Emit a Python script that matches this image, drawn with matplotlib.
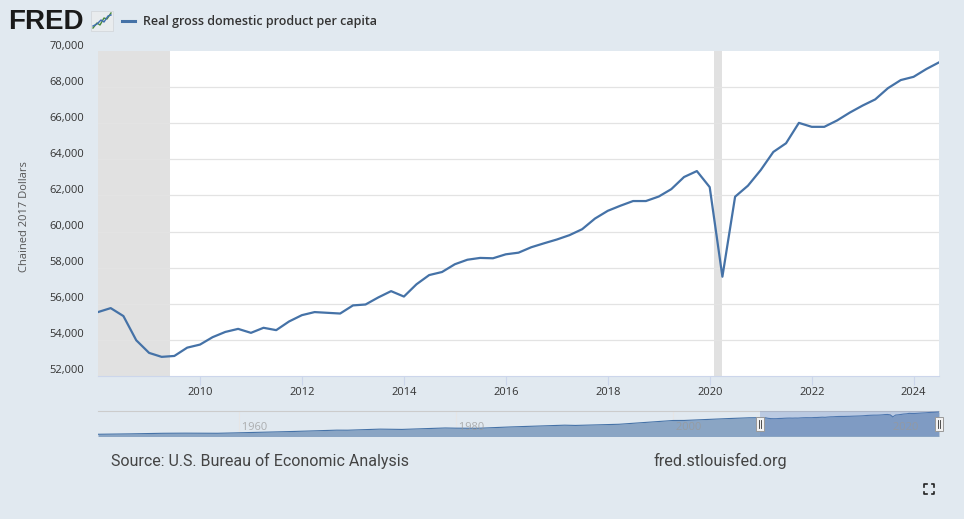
import numpy as np
import pandas as pd
import matplotlib
matplotlib.use("Agg")
import matplotlib.pyplot as plt
import matplotlib.dates as mdates
from matplotlib.patches import Rectangle
from matplotlib.transforms import ScaledTranslation, blended_transform_factory

# quarterly real GDP per capita, chained 2017 dollars, 2008Q1 .. 2024Q3
gdp_pc = [55540, 55760, 55320, 53980, 53280, 53060, 53110, 53570, 53740, 54150,
          54440, 54610, 54390, 54670, 54540, 55020, 55370, 55540, 55500, 55460,
          55910, 55960, 56350, 56700, 56400, 57080, 57590, 57760, 58190, 58440,
          58540, 58520, 58740, 58830, 59130, 59350, 59560, 59800, 60130, 60720,
          61150, 61430, 61690, 61690, 61940, 62350, 63020, 63350, 62460, 57500,
          61930, 62540, 63410, 64410, 64890, 66020, 65800, 65800, 66150, 66590,
          66980, 67320, 67940, 68390, 68570, 69000, 69370]
quarters = pd.date_range("2008-01-01", periods=len(gdp_pc), freq="QS")

# older history, only shown in the navigator strip
hist_dates = pd.to_datetime(["1947-01-01", "1950-01-01", "1953-01-01", "1955-01-01",
                             "1958-01-01", "1960-01-01", "1965-01-01", "1969-01-01",
                             "1970-01-01", "1973-01-01", "1975-01-01", "1979-01-01",
                             "1980-01-01", "1982-01-01", "1985-01-01", "1990-01-01",
                             "1991-01-01", "1995-01-01", "2000-01-01", "2001-01-01",
                             "2005-01-01", "2007-01-01"])
hist_vals = [15200, 16200, 17600, 17900, 17600, 18800, 22000, 25200, 25100, 27700,
             27000, 30500, 30000, 29800, 33000, 37300, 36700, 39500, 48700, 48800,
             53300, 55300]

recessions = [("2007-12-01", "2009-06-01"), ("2020-02-01", "2020-04-01")]
y_ticks = [52000, 54000, 56000, 58000, 60000, 62000, 64000, 66000, 68000, 70000]
x_tick_years = [2010, 2012, 2014, 2016, 2018, 2020, 2022, 2024]
nav_tick_years = [1960, 1980, 2000, 2020]

BG = "#e1e9f0"
LINE = "#4572a7"
W, H = 964, 519

fig = plt.figure(figsize=(W / 100, H / 100), dpi=100, facecolor=BG)

# ---- main chart
ax = fig.add_axes([98 / W, 1 - 376 / H, (939 - 98) / W, (376 - 51) / H])
ax.set_facecolor("white")
for s, e in recessions:
    ax.axvspan(pd.Timestamp(s), pd.Timestamp(e), color="#e1e1e1", lw=0, zorder=1)
ax.plot(quarters, gdp_pc, color=LINE, lw=1.6, zorder=3, solid_joinstyle="round")
ax.set_xlim(pd.Timestamp("2008-01-01"), pd.Timestamp("2024-07-01"))
ax.set_ylim(52000, 70000)
ax.set_yticks(y_ticks)
ax.set_yticklabels([f"{v:,}" for v in y_ticks])
ax.set_xticks([pd.Timestamp(f"{y}-01-01") for y in x_tick_years])
ax.set_xticklabels([str(y) for y in x_tick_years])
ax.grid(axis="y", color="#e3e3e3", lw=0.9, zorder=0)
gl = ax.yaxis.get_gridlines()
gl[0].set_visible(False)
gl[-1].set_visible(False)
for sp in ["top", "right", "left"]:
    ax.spines[sp].set_visible(False)
ax.spines["bottom"].set_color("#ccd6eb")
ax.spines["bottom"].set_linewidth(0.8)
ax.tick_params(axis="y", length=0, pad=10, labelsize=8, labelcolor="#333333")
ax.tick_params(axis="x", length=6.5, width=0.8, color="#ccd6eb", pad=1.5,
               labelsize=8, labelcolor="#333333")
for lbl in ax.get_yticklabels():
    lbl.set_fontfamily(["Open Sans", "DejaVu Sans"])
    lbl.set_transform(lbl.get_transform() + ScaledTranslation(0, 0.065, fig.dpi_scale_trans))
for lbl in ax.get_xticklabels():
    lbl.set_fontfamily(["Open Sans", "DejaVu Sans"])
ax.set_ylabel("Chained 2017 Dollars", fontsize=8, color="#555555",
              family=["Open Sans", "DejaVu Sans"], labelpad=10)
ax.yaxis.set_label_coords(-0.081, 0.49)

# ---- navigator strip
nav = fig.add_axes([98 / W, 1 - 436 / H, (939 - 98) / W, 25 / H])
nav.set_facecolor(BG)
nav_dates = list(hist_dates) + list(quarters)
nav_vals = hist_vals + gdp_pc
nav.fill_between(nav_dates, nav_vals, 0, color="#8aa5c4", lw=0, zorder=2)
nav.plot(nav_dates, nav_vals, color=LINE, lw=0.8, zorder=3)
nav.set_xlim(pd.Timestamp("1947-01-01"), pd.Timestamp("2024-07-01"))
nav.set_ylim(11000, 71800)
nav.axvspan(pd.Timestamp("2008-01-01"), pd.Timestamp("2024-07-01"),
            color="#6685c2", alpha=0.3, lw=0, zorder=4)
bt = blended_transform_factory(nav.transData, nav.transAxes)
for y in nav_tick_years:
    d = pd.Timestamp(f"{y}-01-01")
    nav.axvline(d, color="#e6e6e6", lw=0.8, zorder=1)
    nav.text(d, 0.32, f" {y}", transform=bt, fontsize=8, color="#999999", alpha=0.75,
             ha="left", va="center", family=["Open Sans", "DejaVu Sans"], zorder=5)
nav.set_xticks([])
nav.set_yticks([])
for sp in ["bottom", "right", "left"]:
    nav.spines[sp].set_visible(False)
nav.spines["top"].set_color("#cccccc")
nav.spines["top"].set_linewidth(0.8)
for d in [pd.Timestamp("2008-01-01"), pd.Timestamp("2024-07-01")]:
    x0 = mdates.date2num(d)
    # handle: small white box with two grip lines
    off = 4 * (mdates.date2num(pd.Timestamp("2024-07-01")) - mdates.date2num(pd.Timestamp("1947-01-01"))) / 841
    nav.add_patch(Rectangle((x0 - off, 0.2), 2 * off, 0.58, transform=bt, facecolor="#f2f2f2",
                            edgecolor="#999999", lw=0.7, zorder=6, clip_on=False))
    for k in (-0.3, 0.3):
        nav.plot([x0 + k * off, x0 + k * off], [0.33, 0.65], transform=bt, color="#333333",
                 lw=0.6, zorder=7, clip_on=False)

# ---- header, footer and decorations in pixel space
ov = fig.add_axes([0, 0, 1, 1], facecolor="none")
ov.set_xlim(0, W)
ov.set_ylim(H, 0)
ov.axis("off")
ov.text(8, 22, "FRED", fontsize=20, fontweight="bold", color="#1a1a1a",
        family=["Liberation Sans", "DejaVu Sans"], va="center", ha="left")
ov.add_patch(Rectangle((91, 11), 22, 20, facecolor="#e9ecee", edgecolor="#d0d4d8", lw=0.5))
ov.plot([93, 97, 100, 104, 107, 111], [28, 23, 25, 18, 19, 13], color="#4b8a3c", lw=1)
ov.plot([93, 97, 101, 104, 108, 111], [26, 24, 20, 22, 16, 15], color="#3f6fb0", lw=1)
ov.plot([122, 135], [21, 21], color=LINE, lw=2.2)
ov.text(143, 21, "Real gross domestic product per capita", fontsize=9, fontweight="semibold",
        color="#333333", family=["Open Sans", "DejaVu Sans"], va="center", ha="left")
ov.text(111, 461, "Source: U.S. Bureau of Economic Analysis", fontsize=11.5, color="#444444",
        family=["Roboto", "DejaVu Sans"], va="center", ha="left")
ov.text(653, 461, "fred.stlouisfed.org", fontsize=11.7, color="#444444",
        family=["Roboto", "DejaVu Sans"], va="center", ha="left")
cx, cy, r, t = 929, 489, 5, 2.5
for sx in (-1, 1):
    for sy in (-1, 1):
        ov.plot([cx + sx * r, cx + sx * r, cx + sx * (r - t)],
                [cy + sy * (r - t), cy + sy * r, cy + sy * r], color="#222222", lw=1.2)

fig.savefig("out.png", dpi=100, facecolor=BG)
